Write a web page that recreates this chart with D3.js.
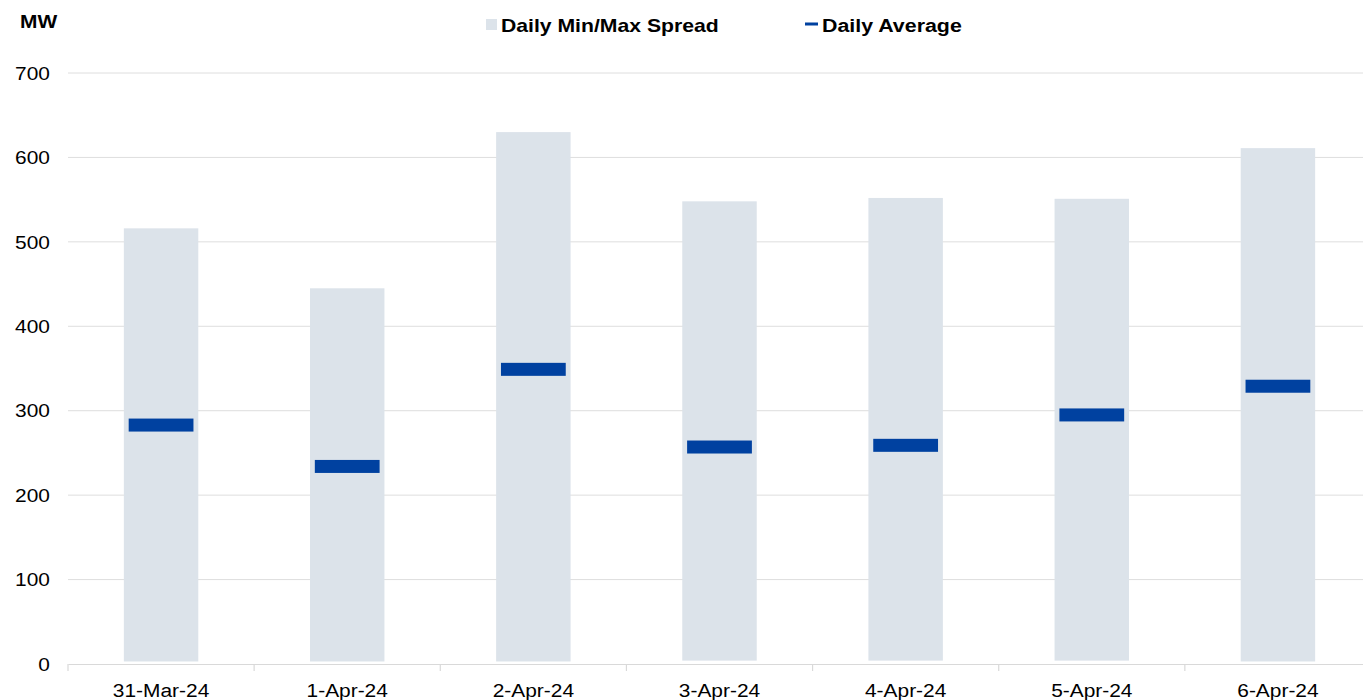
<!DOCTYPE html>
<html><head><meta charset="utf-8">
<script src="https://cdn.jsdelivr.net/npm/d3@7"></script>
<style>
body{margin:0;background:#fff;overflow:hidden}
text{font-family:"Liberation Sans",Arial,sans-serif}
</style></head>
<body><svg id="c" width="1363" height="700"></svg>
<script>
const categories = ["31-Mar-24","1-Apr-24","2-Apr-24","3-Apr-24","4-Apr-24","5-Apr-24","6-Apr-24"];
const minValues = [3, 3, 3, 4, 4, 4, 3];
const maxValues = [516, 445, 630, 548, 552, 551, 611];
const avgValues = [283, 234, 349, 257, 259, 295, 329];
const yTicks = [0,100,200,300,400,500,600,700];

(function(){
const svg = d3.select("#c");
const pL = 68, pR = 1371, pT = 73, pB = 664;
const sx = 1.1;
const x = d3.scaleBand().domain(categories).range([pL, pR]).paddingInner(0.6).paddingOuter(0.3);
const y = d3.scaleLinear().domain([0,700]).range([pB, pT]);

svg.append("g").selectAll("line").data(yTicks.filter(d=>d>0)).join("line")
  .attr("x1", pL).attr("x2", pR).attr("y1", d=>y(d)).attr("y2", d=>y(d))
  .attr("stroke", "#dedede").attr("stroke-width", 1);

svg.append("g").selectAll("text").data(yTicks).join("text")
  .attr("transform", d=>`translate(50,${y(d)}) scale(${sx},1)`).attr("dy","0.35em").attr("text-anchor","end")
  .attr("font-size", 19).attr("fill","#000").text(d=>d);

const bw = x.bandwidth();
svg.append("g").selectAll("rect").data(categories).join("rect")
  .attr("x", d=>x(d)).attr("width", bw)
  .attr("y", (d,i)=>y(maxValues[i])).attr("height", (d,i)=>y(minValues[i]) - y(maxValues[i]))
  .attr("fill", "#dce3ea");

const mw = bw * 0.87;
svg.append("g").selectAll("rect").data(categories).join("rect")
  .attr("x", d=>x(d) + (bw-mw)/2).attr("width", mw)
  .attr("y", (d,i)=>y(avgValues[i]) - 6.5).attr("height", 13)
  .attr("fill", "#0041a0");

const xa = d3.axisBottom(x).tickSize(0).tickFormat(d=>d);
const gx = svg.append("g").attr("transform", `translate(0,${pB})`).call(xa);
gx.select(".domain").attr("stroke", "#d9d9d9").attr("stroke-width", 1.2);
gx.selectAll(".tick text").attr("font-size", 19).attr("fill","#000").attr("dy", 0).attr("y", 0)
  .attr("transform", `translate(0,33) scale(${sx},1)`)
  .attr("font-family","Liberation Sans, Arial, sans-serif");
const bounds = d3.range(categories.length+1).map(i => pL + i*((pR-pL)/categories.length));
svg.append("g").selectAll("line").data(bounds).join("line")
  .attr("x1", d=>d).attr("x2", d=>d).attr("y1", pB).attr("y2", pB+7)
  .attr("stroke", "#d9d9d9").attr("stroke-width", 1.2);

svg.append("text").attr("transform", `translate(20,28) scale(${sx},1)`).attr("font-size", 19).attr("font-weight","bold").text("MW");

svg.append("rect").attr("x", 486).attr("y", 19).attr("width", 11).attr("height", 11).attr("fill", "#dce3ea");
svg.append("text").attr("transform", `translate(501,32) scale(1.115,1)`).attr("font-size", 19).attr("font-weight","bold").text("Daily Min/Max Spread");
svg.append("rect").attr("x", 805).attr("y", 22.5).attr("width", 13).attr("height", 3).attr("fill", "#0041a0");
svg.append("text").attr("transform", `translate(822,32) scale(1.125,1)`).attr("font-size", 19).attr("font-weight","bold").text("Daily Average");
})();
</script></body></html>
